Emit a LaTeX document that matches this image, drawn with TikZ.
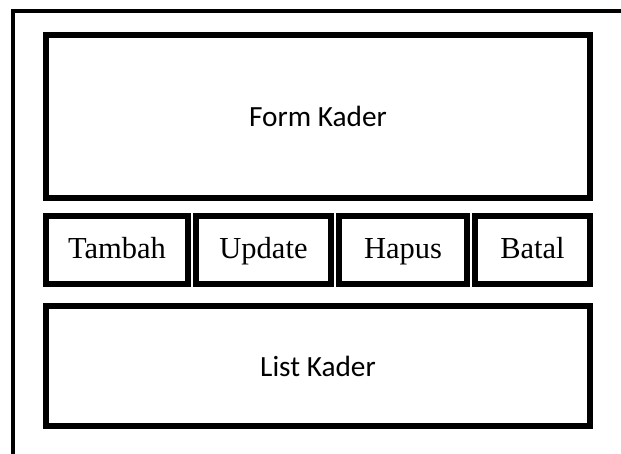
\documentclass[tikz,border=0pt]{standalone}
\usepackage{fontspec}
\newfontfamily\calibrifont{Carlito}
\newfontfamily\timesfont{Liberation Serif}
\begin{document}
\begin{tikzpicture}[x=1pt,y=-1pt,
  box/.style={draw=black, line width=6pt, rectangle, inner sep=0pt, fill=white},
  bigbox/.style={box, minimum width=544pt, font=\calibrifont\fontsize{29.3}{31}\selectfont, text depth=0pt},
  btn/.style={box, minimum height=68pt, font=\timesfont\fontsize{30.5}{32}\selectfont, text height=18pt, text depth=0pt},
  frame/.style={draw=black, line width=4pt}]
\clip (0,0) rectangle (621,454);
\useasboundingbox (0,0) rectangle (621,454);
\fill[white] (0,0) rectangle (621,454);
\coordinate (fb) at (13,470);
\coordinate (fc) at (13,11.5);
\coordinate (fr) at (640,11.5);
\draw[frame] (fb) -- (fc) -- (fr);
\node[bigbox, minimum height=163pt, text height=21pt] (form) at (318,116.5) {Form Kader};
\node[btn, minimum width=142pt] (tambah) at (117,250) {Tambah};
\node[btn, minimum width=135pt] (update) at (263.5,250) {Update};
\node[btn, minimum width=128pt] (hapus) at (403,250) {Hapus};
\node[btn, minimum width=115pt] (batal) at (532.5,250) {Batal};
\node[bigbox, minimum height=120pt, text height=20pt] (list) at (318,366) {List Kader};
\end{tikzpicture}
\end{document}
